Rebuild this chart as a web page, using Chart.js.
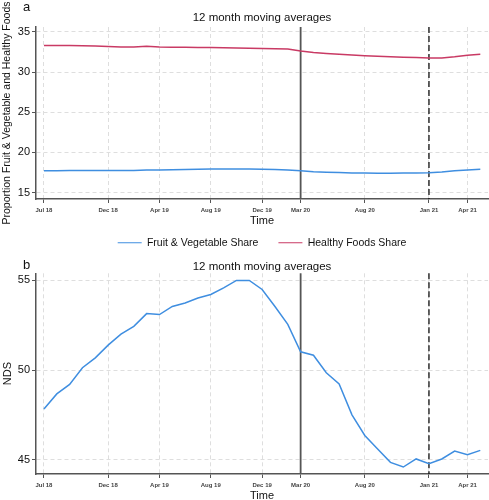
<!DOCTYPE html>
<html>
<head>
<meta charset="utf-8">
<title>12 month moving averages</title>
<script src="https://cdn.jsdelivr.net/npm/chart.js@4.4.1/dist/chart.umd.min.js"></script>
<style>
    body { margin: 0; background: #fff; }
    #wrap { position: relative; width: 489px; height: 500px; overflow: hidden; }
    #wrap canvas { position: absolute; left: 0; }
</style>
</head>
<body>
<div id="wrap">
    <canvas id="chartA" width="489" height="258" style="top:0"></canvas>
    <canvas id="chartB" width="489" height="250" style="top:250px"></canvas>
</div>
<script>
const FONT = "'Liberation Sans', Arial, sans-serif";
Chart.defaults.font.family = FONT;
Chart.defaults.color = '#111';

// данные
const chartTitle = '12 month moving averages';
const months = ['Jul 18', 'Aug 18', 'Sep 18', 'Oct 18', 'Nov 18', 'Dec 18', 'Jan 19', 'Feb 19', 'Mar 19',
    'Apr 19', 'May 19', 'Jun 19', 'Jul 19', 'Aug 19', 'Sep 19', 'Oct 19', 'Nov 19', 'Dec 19', 'Jan 20',
    'Feb 20', 'Mar 20', 'Apr 20', 'May 20', 'Jun 20', 'Jul 20', 'Aug 20', 'Sep 20', 'Oct 20', 'Nov 20',
    'Dec 20', 'Jan 21', 'Feb 21', 'Mar 21', 'Apr 21', 'May 21'];
const tickMonths = ['Jul 18', 'Dec 18', 'Apr 19', 'Aug 19', 'Dec 19', 'Mar 20', 'Aug 20', 'Jan 21', 'Apr 21'];
const policyMonths = ['Mar 20', 'Jan 21'];

const fvShare = [17.70, 17.72, 17.74, 17.75, 17.76, 17.76, 17.74, 17.76, 17.80, 17.82, 17.84, 17.86,
    17.90, 17.92, 17.93, 17.93, 17.92, 17.90, 17.88, 17.80, 17.70, 17.60, 17.54, 17.50, 17.45, 17.42,
    17.41, 17.41, 17.42, 17.44, 17.47, 17.55, 17.70, 17.82, 17.90];
const hfShare = [33.30, 33.30, 33.30, 33.28, 33.24, 33.18, 33.12, 33.12, 33.20, 33.10, 33.08, 33.07,
    33.06, 33.04, 33.02, 33.00, 32.96, 32.94, 32.90, 32.87, 32.62, 32.42, 32.30, 32.20, 32.12, 32.03,
    31.96, 31.90, 31.84, 31.80, 31.75, 31.74, 31.90, 32.10, 32.20];
const nds = [47.83, 48.67, 49.20, 50.13, 50.68, 51.39, 52.00, 52.44, 53.15, 53.10, 53.55, 53.74,
    54.02, 54.22, 54.59, 55.00, 55.00, 54.50, 53.55, 52.55, 51.02, 50.83, 49.85, 49.22, 47.50, 46.35,
    45.59, 44.85, 44.59, 45.04, 44.78, 45.04, 45.48, 45.28, 45.52];
const shareTicks = [15, 20, 25, 30, 35];
const ndsTicks = [45, 50, 55];

const BLUE = '#3f8ee0';
const RED = '#c93a64';

// вертикальные линии: март 2020 (сплошная) и январь 2021 (пунктир)
const policyLines = {
    id: 'policyLines',
    beforeDatasetsDraw(chart) {
        const {ctx, chartArea, scales} = chart;
        policyMonths.forEach((m, k) => {
            const px = scales.x.getPixelForValue(months.indexOf(m));
            ctx.save();
            ctx.beginPath();
            if (k === 0) {
                ctx.strokeStyle = '#555';
                ctx.lineWidth = 1.8;
            } else {
                ctx.strokeStyle = '#111';
                ctx.lineWidth = 1.3;
                ctx.setLineDash([6, 3]);
            }
            ctx.moveTo(px, chartArea.top);
            ctx.lineTo(px, chartArea.bottom);
            ctx.stroke();
            ctx.restore();
        });
    }
};

// буква панели (a / b)
const panelTag = {
    id: 'panelTag',
    afterDraw(chart, args, opts) {
        const ctx = chart.ctx;
        ctx.save();
        ctx.font = '13px ' + FONT;
        ctx.fillStyle = '#111';
        ctx.textBaseline = 'middle';
        ctx.fillText(opts.text, 23, opts.y);
        ctx.restore();
    }
};

function gridOpts() {
    return {color: '#dedede', tickColor: '#555', tickLength: 4, lineWidth: 1};
}
function borderOpts() {
    return {display: true, color: '#555', width: 1.5, dash: [4, 3]};
}

function panelOptions(cfg) {
    return {
        responsive: false,
        animation: false,
        layout: {padding: {left: 0, right: 1, top: 0, bottom: 0}},
        elements: {point: {radius: 0}, line: {borderWidth: 1.5, tension: 0}},
        plugins: {
            title: {
                display: true, text: chartTitle, fullSize: false, color: '#111',
                font: {size: 11.5, weight: 'normal'}, padding: cfg.titlePad
            },
            legend: cfg.legend,
            tooltip: {enabled: false},
            panelTag: cfg.tag
        },
        scales: {
            x: {
                type: 'linear', min: -0.62, max: 34.6,
                afterBuildTicks: s => { s.ticks = tickMonths.map(m => ({value: months.indexOf(m)})); },
                afterFit: s => { s.height = cfg.xHeight; },
                ticks: {
                    callback: v => months[v], autoSkip: false, maxRotation: 0,
                    font: {size: 6, weight: 'bold'}, color: '#444', padding: 3.5
                },
                grid: gridOpts(),
                border: borderOpts(),
                title: {display: true, text: 'Time', font: {size: 11}, color: '#111', padding: {top: 0, bottom: cfg.timePad}}
            },
            y: {
                min: cfg.yMin, max: cfg.yMax,
                afterBuildTicks: s => { s.ticks = cfg.yTicks.map(v => ({value: v})); },
                afterFit: s => { s.width = 36; },
                ticks: {font: {size: 11}, color: '#111', padding: 2},
                grid: gridOpts(),
                border: borderOpts(),
                title: {display: true, text: cfg.yTitle, font: {size: cfg.yTitleSize}, color: '#111', padding: {top: 1, bottom: 0}}
            }
        }
    };
}

function toPoints(values) {
    return values.map((v, i) => ({x: i, y: v}));
}

// панель a
new Chart(document.getElementById('chartA').getContext('2d'), {
    type: 'line',
    data: {
        datasets: [
            {label: 'Fruit & Vegetable Share', data: toPoints(fvShare), borderColor: BLUE, backgroundColor: BLUE},
            {label: 'Healthy Foods Share', data: toPoints(hfShare), borderColor: RED, backgroundColor: RED}
        ]
    },
    options: panelOptions({
        titlePad: {top: 11, bottom: 2.2},
        yMin: 14.2, yMax: 35.6, yTicks: shareTicks,
        yTitle: 'Proportion Fruit & Vegetable and Healthy Foods', yTitleSize: 10.5,
        xHeight: 18.5, timePad: -9.6,
        tag: {text: 'a', y: 7},
        legend: {
            display: true, position: 'bottom', fullSize: false,
            labels: {usePointStyle: true, pointStyle: 'line', pointStyleWidth: 24, font: {size: 10.5}, color: '#111', padding: 20}
        }
    }),
    plugins: [policyLines, panelTag]
});

// панель b
new Chart(document.getElementById('chartB').getContext('2d'), {
    type: 'line',
    data: {
        datasets: [
            {label: 'NDS', data: toPoints(nds), borderColor: BLUE, backgroundColor: BLUE}
        ]
    },
    options: panelOptions({
        titlePad: {top: 9.5, bottom: 0},
        yMin: 44.2, yMax: 55.4, yTicks: ndsTicks,
        yTitle: 'NDS', yTitleSize: 11,
        xHeight: 26, timePad: -2.1,
        tag: {text: 'b', y: 15},
        legend: {display: false}
    }),
    plugins: [policyLines, panelTag]
});
</script>
</body>
</html>
